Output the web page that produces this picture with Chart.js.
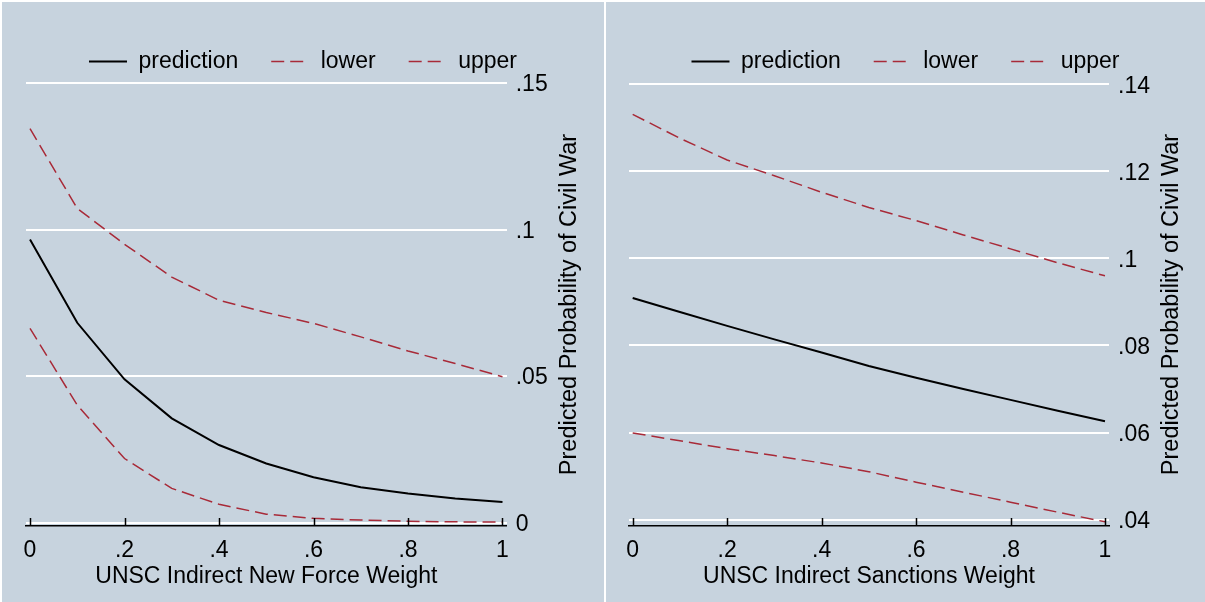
<!DOCTYPE html>
<html>
<head>
<meta charset="utf-8">
<script src="https://cdn.jsdelivr.net/npm/chart.js@4.4.0/dist/chart.umd.min.js"></script>
<style>
    html, body { margin: 0; padding: 0; background: #ffffff; }
    body { width: 1205px; height: 602px; position: relative; overflow: hidden; }
    canvas { position: absolute; top: 2px; background: #c7d3de; }
    #forceChart { left: 2px; }
    #sanctionsChart { left: 606px; }
</style>
</head>
<body>
<canvas id="forceChart" width="602" height="600"></canvas>
<canvas id="sanctionsChart" width="599" height="600"></canvas>
<script>
// ============================================================================
// PREDICTED PROBABILITY OF CIVIL WAR - TWO PANELS (STATA STYLE)
// ============================================================================

const xValues = [0, 0.1, 0.2, 0.3, 0.4, 0.5, 0.6, 0.7, 0.8, 0.9, 1];
const xTicks = [0, 0.2, 0.4, 0.6, 0.8, 1];
const seriesLabels = ['prediction', 'lower', 'upper'];

// Left panel: UNSC Indirect New Force Weight
const forcePrediction = [0.0966, 0.0682, 0.0489, 0.0356, 0.0265, 0.0202, 0.0155, 0.0121, 0.0100, 0.0083, 0.0071];
const forceLower = [0.0663, 0.0401, 0.0219, 0.0117, 0.0063, 0.0029, 0.0015, 0.0009, 0.0005, 0.0003, 0.0002];
const forceUpper = [0.1344, 0.1072, 0.0950, 0.0838, 0.0759, 0.0717, 0.0680, 0.0634, 0.0586, 0.0543, 0.0498];
const forceYTicks = [0, 0.05, 0.1, 0.15];

// Right panel: UNSC Indirect Sanctions Weight
const sanctionsPrediction = [0.0909, 0.0877, 0.0845, 0.0814, 0.0784, 0.0753, 0.0726, 0.0700, 0.0675, 0.0650, 0.0626];
const sanctionsLower = [0.0599, 0.0581, 0.0563, 0.0547, 0.0530, 0.0510, 0.0486, 0.0463, 0.0440, 0.0417, 0.0395];
const sanctionsUpper = [0.1331, 0.1276, 0.1226, 0.1190, 0.1152, 0.1117, 0.1087, 0.1054, 0.1022, 0.0990, 0.0960];
const sanctionsYTicks = [0.04, 0.06, 0.08, 0.1, 0.12, 0.14];

const FONT_FAMILY = '"Liberation Sans", Arial, Helvetica, sans-serif';
const FONT_SIZE = 23;
const RED = '#a82a38';

/**
 * Stata-like number format: 0.15 -> ".15", 0 -> "0", 1 -> "1"
 */
function stataFormat(value) {
    const v = Math.round(value * 10000) / 10000;
    return String(v).replace(/^0\./, '.');
}

/**
 * Draws upward tick marks on the x axis and the rotated y-axis title
 */
const stataAxisPlugin = {
    id: 'stataAxis',
    afterDraw(chart, args, opts) {
        const { ctx, chartArea, scales } = chart;
        ctx.save();
        ctx.strokeStyle = '#000000';
        ctx.lineWidth = 1.5;
        scales.x.ticks.forEach(t => {
            const px = Math.round(scales.x.getPixelForValue(t.value)) + 0.5;
            ctx.beginPath();
            ctx.moveTo(px, chartArea.bottom);
            ctx.lineTo(px, chartArea.bottom - 8);
            ctx.stroke();
        });

        ctx.translate(chartArea.right + 63, (chartArea.top + chartArea.bottom) / 2);
        ctx.rotate(-Math.PI / 2);
        ctx.font = '23.5px ' + FONT_FAMILY;
        ctx.fillStyle = '#000000';
        ctx.textAlign = 'center';
        ctx.textBaseline = 'middle';
        ctx.fillText(opts.title, 0, 0);
        ctx.restore();
    }
};

/**
 * Render one panel
 */
function renderPanel(canvasId, cfg) {
    const ctx = document.getElementById(canvasId).getContext('2d');

    const datasets = [
        { label: seriesLabels[0], data: cfg.prediction, borderColor: '#000000', borderWidth: 2, borderDash: [] },
        { label: seriesLabels[1], data: cfg.lower, borderColor: RED, borderWidth: 1.5, borderDash: [13, 6] },
        { label: seriesLabels[2], data: cfg.upper, borderColor: RED, borderWidth: 1.5, borderDash: [13, 6] }
    ].map(ds => ({
        ...ds,
        data: ds.data.map((y, i) => ({ x: xValues[i], y })),
        pointRadius: 0,
        tension: 0,
        fill: false
    }));

    return new Chart(ctx, {
        type: 'line',
        data: { datasets },
        plugins: [stataAxisPlugin],
        options: {
            responsive: false,
            animation: false,
            layout: { padding: { top: 15, left: cfg.padLeft, right: cfg.padRight, bottom: 0 } },
            plugins: {
                stataAxis: { title: 'Predicted Probability of Civil War' },
                tooltip: { enabled: false },
                legend: {
                    display: true,
                    position: 'top',
                    labels: {
                        usePointStyle: true,
                        pointStyleWidth: 38,
                        padding: 33,
                        color: '#000000',
                        font: { size: FONT_SIZE, family: FONT_FAMILY },
                        generateLabels: chart => chart.data.datasets.map((ds, i) => ({
                            text: ds.label,
                            strokeStyle: ds.borderColor,
                            fillStyle: ds.borderColor,
                            lineWidth: ds.borderWidth,
                            lineDash: ds.borderDash,
                            pointStyle: 'line',
                            fontColor: '#000000',
                            hidden: false,
                            datasetIndex: i
                        }))
                    }
                }
            },
            scales: {
                x: {
                    type: 'linear',
                    min: cfg.xMin,
                    max: cfg.xMax,
                    afterBuildTicks: scale => { scale.ticks = xTicks.map(v => ({ value: v })); },
                    afterFit: scale => { scale.height = 76; },
                    grid: { display: false, drawTicks: false },
                    border: { display: true, color: '#000000', width: 1.5 },
                    ticks: {
                        padding: 11,
                        color: '#000000',
                        maxRotation: 0,
                        autoSkip: false,
                        font: { size: FONT_SIZE, family: FONT_FAMILY },
                        callback: v => stataFormat(v)
                    },
                    title: {
                        display: true,
                        text: cfg.xTitle,
                        color: '#000000',
                        padding: { top: 0, bottom: 12 },
                        font: { size: FONT_SIZE, family: FONT_FAMILY }
                    }
                },
                y: {
                    type: 'linear',
                    position: 'right',
                    min: cfg.yMin,
                    max: cfg.yMax,
                    afterBuildTicks: scale => { scale.ticks = cfg.yTicks.map(v => ({ value: v })); },
                    afterFit: scale => { scale.width = cfg.yWidth; },
                    grid: { color: '#ffffff', lineWidth: 2, drawTicks: false },
                    border: { display: false },
                    ticks: {
                        padding: 9,
                        labelOffset: 2,
                        color: '#000000',
                        autoSkip: false,
                        font: { size: FONT_SIZE, family: FONT_FAMILY },
                        callback: v => stataFormat(v)
                    }
                }
            }
        }
    });
}

renderPanel('forceChart', {
    prediction: forcePrediction,
    lower: forceLower,
    upper: forceUpper,
    yTicks: forceYTicks,
    xTitle: 'UNSC Indirect New Force Weight',
    xMin: -0.0085, xMax: 1.0089,
    yMin: -0.00112, yMax: 0.15,
    padLeft: 24, padRight: 24, yWidth: 73.3
});

renderPanel('sanctionsChart', {
    prediction: sanctionsPrediction,
    lower: sanctionsLower,
    upper: sanctionsUpper,
    yTicks: sanctionsYTicks,
    xTitle: 'UNSC Indirect Sanctions Weight',
    xMin: -0.0078, xMax: 1.0085,
    yMin: 0.03853, yMax: 0.1403,
    padLeft: 23, padRight: 23, yWidth: 73
});
</script>
</body>
</html>
